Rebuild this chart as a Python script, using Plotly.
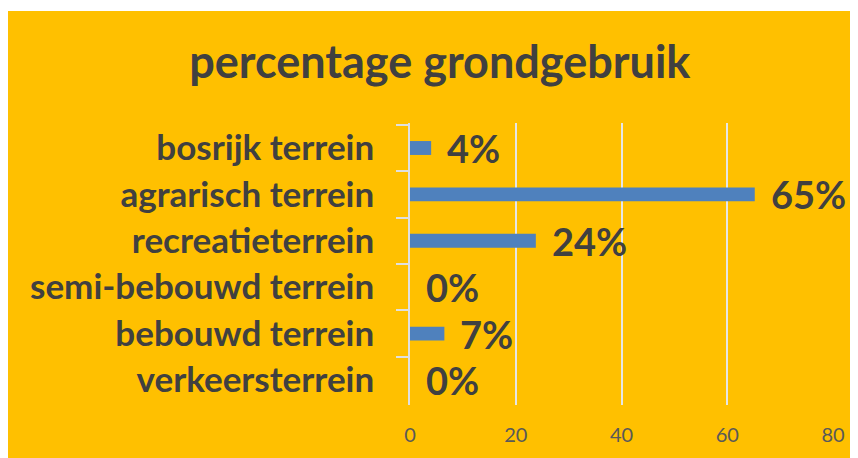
import plotly.graph_objects as go

categories = ["bosrijk terrein", "agrarisch terrein", "recreatieterrein",
              "semi-bebouwd terrein", "bebouwd terrein", "verkeersterrein"]
values = [4.0, 65.2, 23.8, 0.0, 6.5, 0.0]
value_labels = ["4%", "65%", "24%", "0%", "7%", "0%"]
x_ticks = [0, 20, 40, 60, 80]

FONT = "Lato, Open Sans, sans-serif"
DARK = "#404040"

# page body has an 8px margin; figure is sized to fill the rest
W, H = 850, 450
L, R, T, B = 402, 25, 115, 53
PH = H - T - B

fig = go.Figure()
fig.add_trace(go.Bar(
    y=categories, x=values, orientation="h",
    marker=dict(color="#4F81BD", line=dict(width=0)),
    width=0.3, hoverinfo="skip",
))

for c, v, t in zip(categories, values, value_labels):
    fig.add_annotation(x=v, y=c, text=t, showarrow=False, xanchor="left",
                       xshift=14, font=dict(family=FONT, size=38, color=DARK,
                                            weight="bold"))

fig.add_shape(type="rect", xref="paper", yref="paper", x0=-2, x1=2,
              y0=1 + (T - 3) / PH, y1=1.6, fillcolor="white",
              line=dict(width=0), layer="above")

fig.update_layout(
    width=W, height=H,
    margin=dict(l=L, r=R, t=T, b=B),
    paper_bgcolor="#FFC000", plot_bgcolor="#FFC000",
    showlegend=False,
    title=dict(text="<b>percentage grondgebruik</b>", x=0.508, xanchor="center",
               y=1 - 54 / H, yanchor="middle",
               font=dict(family=FONT, size=45, color=DARK)),
    xaxis=dict(range=[0, 80], tickvals=x_ticks, showgrid=True,
               gridcolor="#E6E6E6", gridwidth=1.5, zeroline=False,
               showline=False, ticks="", ticklabelstandoff=16,
               tickfont=dict(family=FONT, size=20, color="#595959")),
    yaxis=dict(autorange="reversed", showline=True, linecolor="#E0E0E0",
               linewidth=1.5, ticks="outside", tickson="boundaries",
               ticklen=12, tickcolor="#E0E0E0", tickwidth=1.5,
               ticklabelstandoff=27, showgrid=False,
               tickfont=dict(family=FONT, size=35, color=DARK, weight="bold")),
)

fig.write_html("out.html")
